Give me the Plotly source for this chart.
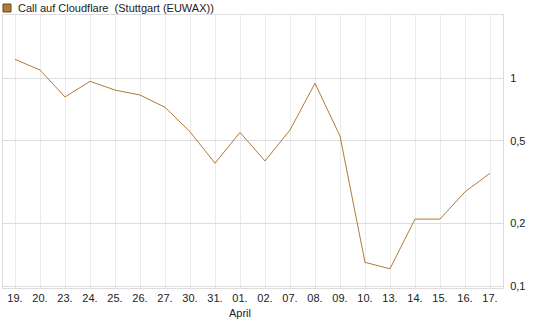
import plotly.graph_objects as go

dates = ["19.", "20.", "23.", "24.", "25.", "26.", "27.", "30.", "31.", "01.",
         "02.", "07.", "08.", "09.", "10.", "13.", "14.", "15.", "16.", "17."]
values = [1.234, 1.096, 0.813, 0.967, 0.878, 0.831, 0.725, 0.553, 0.390, 0.549,
          0.400, 0.564, 0.946, 0.527, 0.130, 0.121, 0.210, 0.210, 0.284, 0.349]
month_label = {"01.": "April"}
y_ticks = [0.1, 0.2, 0.5, 1]
y_ticktext = ["0,1", "0,2", "0,5", "1"]
series_name = "Call auf Cloudflare&nbsp; (Stuttgart (EUWAX))"

line_color = "#B07B38"
idx = list(range(len(dates)))
ticktext = [d + ("<br>" + month_label[d] if d in month_label else "") for d in dates]

fig = go.Figure()
fig.add_trace(go.Scatter(x=idx, y=values, mode="lines",
                         line=dict(color=line_color, width=1), showlegend=False,
                         hoverinfo="skip"))

fig.update_layout(
    width=545, height=327,
    margin=dict(l=3, r=42, t=15, b=39),
    paper_bgcolor="white", plot_bgcolor="white",
    font=dict(family="Liberation Sans, Arial, sans-serif", size=11, color="#222"),
    showlegend=False,
    xaxis=dict(
        range=[-0.48, 19.52], tickvals=idx, ticktext=ticktext,
        showgrid=True, gridcolor="#EBEBEB", gridwidth=1,
        showline=True, linecolor="#DDDDDD", mirror=True,
        ticks="", zeroline=False, fixedrange=True,
    ),
    yaxis=dict(
        type="log", range=[-1.0096, 0.3048], side="right",
        tickvals=y_ticks, ticktext=y_ticktext,
        showgrid=True, gridcolor="#DDDDDD", gridwidth=1,
        showline=True, linecolor="#DDDDDD", mirror=True,
        ticks="outside", ticklen=4, tickcolor="white",
        zeroline=False, fixedrange=True,
    ),
    shapes=[dict(type="rect", xref="paper", yref="paper",
                 x0=0, x1=8 / 500, y0=1 + 3 / 273, y1=1 + 11 / 273,
                 fillcolor=line_color, line=dict(color="#6B4A20", width=1))],
    annotations=[dict(text=series_name, xref="paper", yref="paper",
                      x=13 / 500, y=1 + 7 / 273, xanchor="left", yanchor="middle",
                      showarrow=False, font=dict(size=11, color="#222"))],
)

fig.write_html("out.html")
